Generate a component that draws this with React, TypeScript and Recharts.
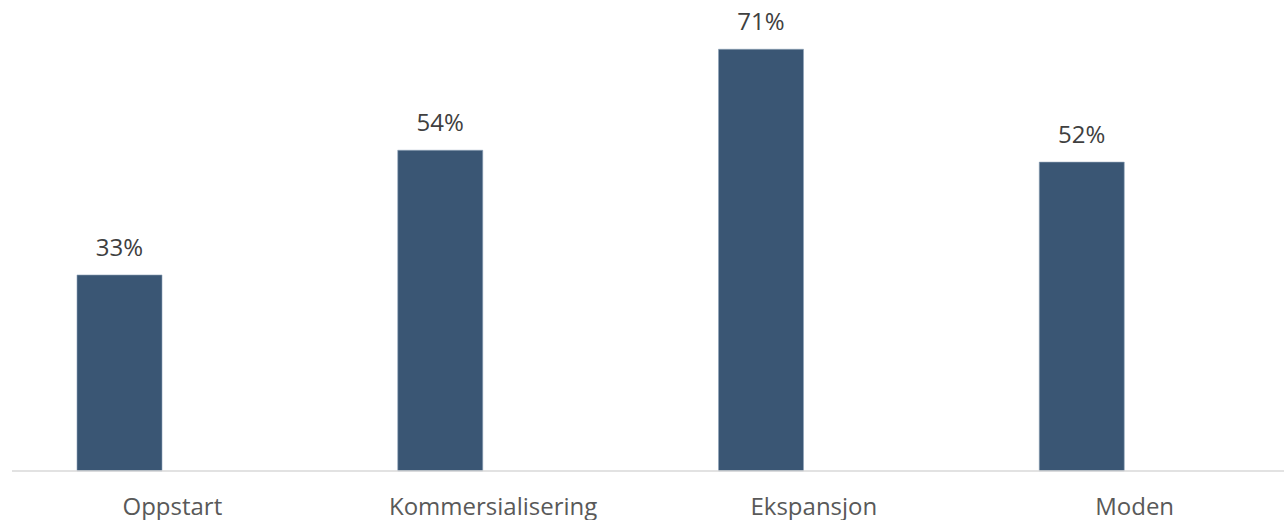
import { BarChart, Bar, XAxis, YAxis, LabelList } from 'recharts'

const categories = ['Oppstart', 'Kommersialisering', 'Ekspansjon', 'Moden']
const shares = [0.33, 0.54, 0.71, 0.52]

const FONT = '"Open Sans", "Noto Sans", sans-serif'

export default function App() {
  // second (empty) series keeps the Excel-style left offset of each bar
  const data = categories.map((name, i) => ({ name, share: shares[i], blank: null }))

  return (
    <div style={{ position: 'absolute', left: 0, top: 0, width: 1284, height: 520, overflow: 'hidden', background: '#fff' }}>
      <BarChart
        width={1300}
        height={540}
        data={data}
        margin={{ top: 25.5, right: 5, left: 12, bottom: 39 }}
        barSize={85}
        barGap={21}
      >
        <XAxis
          dataKey="name"
          axisLine={{ stroke: '#d9d9d9', strokeWidth: 1.5 }}
          tickLine={false}
          tickSize={0}
          tickMargin={27}
          interval={0}
          tick={{ fontSize: 24, fill: '#595959', fontFamily: FONT }}
        />
        <YAxis hide domain={[0, 0.75]} />
        <Bar dataKey="share" fill="#3a5674" stroke="#8ea2b8" strokeWidth={0.6} isAnimationActive={false}>
          <LabelList
            dataKey="share"
            position="top"
            offset={19}
            formatter={(v: any) => `${Math.round(Number(v) * 100)}%`}
            style={{ fontSize: 24, fill: '#404040', fontFamily: FONT }}
          />
        </Bar>
        <Bar dataKey="blank" fill="#a5a5a5" isAnimationActive={false} />
      </BarChart>
    </div>
  )
}
